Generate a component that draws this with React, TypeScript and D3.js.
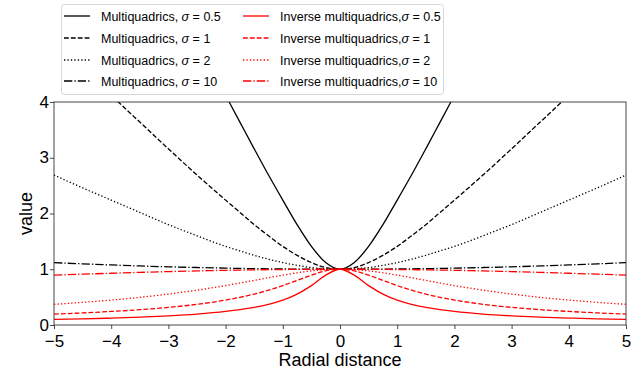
import { useRef, useEffect } from "react";
import * as d3 from "d3";

const xs = [
  -5, -4.5, -4, -3.5, -3, -2.5, -2, -1.75, -1.5, -1.25, -1, -0.75, -0.5, -0.25, 0,
  0.25, 0.5, 0.75, 1, 1.25, 1.5, 1.75, 2, 2.5, 3, 3.5, 4, 4.5, 5,
];

// values (null = above the visible range)
const mq05 = [
  null, null, null, null, null, null, 4.12, 3.64, 3.16, 2.69, 2.24, 1.8, 1.41, 1.12, 1,
  1.12, 1.41, 1.8, 2.24, 2.69, 3.16, 3.64, 4.12, null, null, null, null, null, null,
];
const mq1 = [
  null, 4.61, 4.12, 3.64, 3.16, 2.69, 2.24, 2.02, 1.8, 1.6, 1.41, 1.25, 1.12, 1.03, 1,
  1.03, 1.12, 1.25, 1.41, 1.6, 1.8, 2.02, 2.24, 2.69, 3.16, 3.64, 4.12, 4.61, null,
];
const mq2 = [
  2.69, 2.46, 2.24, 2.02, 1.8, 1.6, 1.41, 1.33, 1.25, 1.18, 1.12, 1.07, 1.03, 1.01, 1,
  1.01, 1.03, 1.07, 1.12, 1.18, 1.25, 1.33, 1.41, 1.6, 1.8, 2.02, 2.24, 2.46, 2.69,
];
const mq10 = [
  1.118, 1.097, 1.077, 1.059, 1.044, 1.031, 1.02, 1.015, 1.011, 1.008, 1.005, 1.003, 1.001, 1.0, 1,
  1.0, 1.001, 1.003, 1.005, 1.008, 1.011, 1.015, 1.02, 1.031, 1.044, 1.059, 1.077, 1.097, 1.118,
];
const imq05 = [
  0.1, 0.11, 0.124, 0.141, 0.164, 0.196, 0.243, 0.275, 0.316, 0.371, 0.447, 0.555, 0.707, 0.894, 1,
  0.894, 0.707, 0.555, 0.447, 0.371, 0.316, 0.275, 0.243, 0.196, 0.164, 0.141, 0.124, 0.11, 0.1,
];
const imq1 = [
  0.196, 0.217, 0.243, 0.275, 0.316, 0.371, 0.447, 0.496, 0.555, 0.625, 0.707, 0.8, 0.894, 0.97, 1,
  0.97, 0.894, 0.8, 0.707, 0.625, 0.555, 0.496, 0.447, 0.371, 0.316, 0.275, 0.243, 0.217, 0.196,
];
const imq2 = [
  0.371, 0.406, 0.447, 0.496, 0.555, 0.625, 0.707, 0.753, 0.8, 0.848, 0.894, 0.936, 0.97, 0.992, 1,
  0.992, 0.97, 0.936, 0.894, 0.848, 0.8, 0.753, 0.707, 0.625, 0.555, 0.496, 0.447, 0.406, 0.371,
];
const imq10 = [
  0.894, 0.912, 0.928, 0.944, 0.958, 0.97, 0.981, 0.985, 0.989, 0.992, 0.995, 0.997, 0.999, 1.0, 1,
  1.0, 0.999, 0.997, 0.995, 0.992, 0.989, 0.985, 0.981, 0.97, 0.958, 0.944, 0.928, 0.912, 0.894,
];

const xTicks = [-5, -4, -3, -2, -1, 0, 1, 2, 3, 4, 5];
const yTicks = [0, 1, 2, 3, 4];

const LW = 1.3;
const DASH: Record<string, string | null> = {
  solid: null,
  dashed: `${3.7 * LW},${1.6 * LW}`,
  dotted: `${1 * LW},${1.65 * LW}`,
  dashdot: `${6.4 * LW},${1.6 * LW},${1 * LW},${1.6 * LW}`,
};

const seriesList = [
  { label: "Multiquadrics, ", sigma: "0.5", values: mq05, color: "#000000", style: "solid", col: 0 },
  { label: "Multiquadrics, ", sigma: "1", values: mq1, color: "#000000", style: "dashed", col: 0 },
  { label: "Multiquadrics, ", sigma: "2", values: mq2, color: "#000000", style: "dotted", col: 0 },
  { label: "Multiquadrics, ", sigma: "10", values: mq10, color: "#000000", style: "dashdot", col: 0 },
  { label: "Inverse multiquadrics,", sigma: "0.5", values: imq05, color: "#ff0000", style: "solid", col: 1 },
  { label: "Inverse multiquadrics,", sigma: "1", values: imq1, color: "#ff0000", style: "dashed", col: 1 },
  { label: "Inverse multiquadrics,", sigma: "2", values: imq2, color: "#ff0000", style: "dotted", col: 1 },
  { label: "Inverse multiquadrics,", sigma: "10", values: imq10, color: "#ff0000", style: "dashdot", col: 1 },
];

const App = () => {
  const ref = useRef<SVGSVGElement>(null);

  useEffect(() => {
    if (!ref.current) return;
    const svg = d3.select(ref.current);
    svg.selectAll("*").remove();

    const width = 641;
    const height = 372;
    const margin = { top: 102, right: 15, bottom: 47, left: 54 };
    const w = width - margin.left - margin.right;
    const h = height - margin.top - margin.bottom;
    const font = "'Liberation Sans', Arial, sans-serif";

    svg
      .append("rect")
      .attr("width", width)
      .attr("height", height)
      .attr("fill", "#ffffff");

    const x = d3.scaleLinear().domain([-5, 5]).range([0, w]);
    const y = d3.scaleLinear().domain([0, 4]).range([h, 0]);

    const g = svg
      .append("g")
      .attr("transform", `translate(${margin.left},${margin.top})`);

    svg
      .append("defs")
      .append("clipPath")
      .attr("id", "plot-clip")
      .append("rect")
      .attr("width", w)
      .attr("height", h);

    const line = d3
      .line<[number, number | null]>()
      .defined((d) => d[1] !== null)
      .x((d) => x(d[0]))
      .y((d) => y(d[1] as number))
      .curve(d3.curveMonotoneX);

    const lines = g.append("g").attr("clip-path", "url(#plot-clip)");
    seriesList.forEach((s) => {
      const pts = xs.map((xv, i) => [xv, s.values[i]] as [number, number | null]);
      const p = lines
        .append("path")
        .attr("d", line(pts))
        .attr("fill", "none")
        .attr("stroke", s.color)
        .attr("stroke-width", LW);
      if (DASH[s.style]) p.attr("stroke-dasharray", DASH[s.style] as string);
    });

    // axes
    const xAxis = d3.axisBottom(x).tickValues(xTicks).tickSize(4).tickSizeOuter(0).tickFormat(d3.format("d"));
    const yAxis = d3.axisLeft(y).tickValues(yTicks).tickSize(4).tickSizeOuter(0).tickFormat(d3.format("d"));

    g.append("g")
      .attr("transform", `translate(0,${h})`)
      .call(xAxis)
      // eslint-disable-next-line @typescript-eslint/no-explicit-any
      .call((a: any) => a.select(".domain").remove())
      // eslint-disable-next-line @typescript-eslint/no-explicit-any
      .call((a: any) => a.selectAll(".tick line").attr("stroke", "#333").attr("stroke-width", 0.9))
      // eslint-disable-next-line @typescript-eslint/no-explicit-any
      .call((a: any) =>
        a
          .selectAll("text")
          .attr("fill", "#000")
          .attr("y", 9.5)
          .style("font-family", font)
          .style("font-size", "17px")
      );

    g.append("g")
      .call(yAxis)
      // eslint-disable-next-line @typescript-eslint/no-explicit-any
      .call((a: any) => a.select(".domain").remove())
      // eslint-disable-next-line @typescript-eslint/no-explicit-any
      .call((a: any) => a.selectAll(".tick line").attr("stroke", "#333").attr("stroke-width", 0.9))
      // eslint-disable-next-line @typescript-eslint/no-explicit-any
      .call((a: any) =>
        a
          .selectAll("text")
          .attr("fill", "#000")
          .attr("x", -5)
          .attr("dy", "0.3em")
          .style("font-family", font)
          .style("font-size", "17px")
      );

    // frame
    g.append("rect")
      .attr("width", w)
      .attr("height", h)
      .attr("fill", "none")
      .attr("stroke", "#333")
      .attr("stroke-width", 0.9);

    // axis labels
    svg
      .append("text")
      .attr("x", margin.left + w / 2)
      .attr("y", 366)
      .attr("text-anchor", "middle")
      .style("font-family", font)
      .style("font-size", "18px")
      .text("Radial distance");

    svg
      .append("text")
      .attr("transform", `translate(32,${margin.top + h / 2}) rotate(-90)`)
      .attr("text-anchor", "middle")
      .style("font-family", font)
      .style("font-size", "18px")
      .text("value");

    // legend
    const legend = svg.append("g");
    legend
      .append("rect")
      .attr("x", 61.5)
      .attr("y", 4.5)
      .attr("width", 382)
      .attr("height", 90)
      .attr("rx", 3)
      .attr("fill", "#ffffff")
      .attr("fill-opacity", 0.8)
      .attr("stroke", "#d6d6d6")
      .attr("stroke-width", 1);

    const colX = [64, 243];
    const rowY = [16, 38, 60, 81];
    seriesList.forEach((s, i) => {
      const row = i % 4;
      const lx = colX[s.col];
      const ly = rowY[row];
      const hl = legend
        .append("line")
        .attr("x1", lx)
        .attr("x2", lx + 26)
        .attr("y1", ly)
        .attr("y2", ly)
        .attr("stroke", s.color)
        .attr("stroke-width", LW);
      if (DASH[s.style]) hl.attr("stroke-dasharray", DASH[s.style] as string);
      const t = legend
        .append("text")
        .attr("x", lx + 37)
        .attr("y", ly + 4.5)
        .style("font-family", font)
        .style("font-size", "12.5px")
        .attr("fill", "#000");
      t.append("tspan").text(s.label);
      t.append("tspan").style("font-style", "italic").text("σ");
      t.append("tspan").text(` = ${s.sigma}`);
    });

    return () => {
      svg.selectAll("*").remove();
    };
  }, []);

  return (
    <div style={{ position: "absolute", left: 0, top: 0 }}>
      <svg ref={ref} width={641} height={372} style={{ display: "block" }}></svg>
    </div>
  );
};

export default App;
